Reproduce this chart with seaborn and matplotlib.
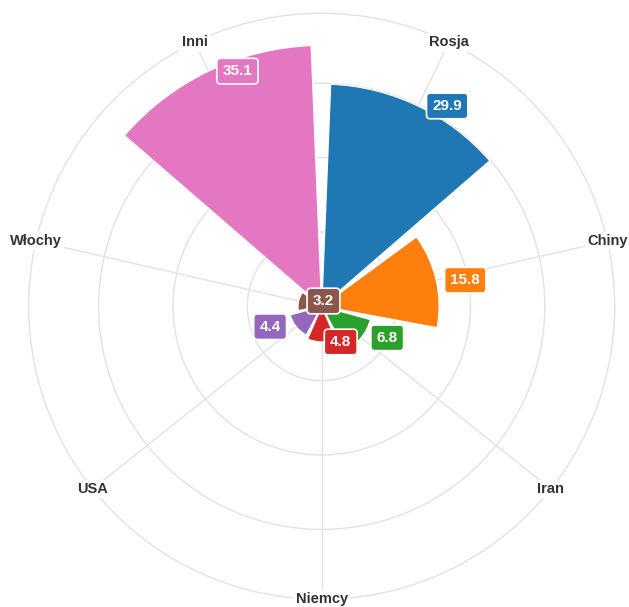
import numpy as np
import matplotlib
matplotlib.use("Agg")
import matplotlib.pyplot as plt
import seaborn as sns

# ---- data ----
categories = ["Rosja", "Chiny", "Iran", "Niemcy", "USA", "Włochy", "Inni"]
values = [29.9, 15.8, 6.8, 4.8, 4.4, 3.2, 35.1]
value_labels = ["29.9", "15.8", "6.8", "4.8", "4.4", "3.2", "35.1"]
ring_ticks = [10, 20, 30]

# ---- style / layout ----
sns.set_theme(style="white")
plt.rcParams["font.family"] = ["Liberation Sans", "DejaVu Sans"]

colors = ["#1f77b4", "#ff7f0e", "#2ca02c", "#d62728", "#9467bd", "#8c564b", "#e377c2"]
label_dx_px = [29, 29, 26, 19, -26, 25, 29]   # horizontal offsets of value boxes
rmax = 39.4
grid_col = "#e2e2e2"

W, H = 629, 607
fig = plt.figure(figsize=(W / 100, H / 100), dpi=100)
cx, cy, R = 321.7, 306.3, 293.0
ax = fig.add_axes([(cx - R) / W, (H - cy - R) / H, 2 * R / W, 2 * R / H],
                  projection="polar")
ax.set_theta_zero_location("N")
ax.set_theta_direction(-1)

n = len(categories)
step = 2 * np.pi / n
thetas = np.arange(n) * step + step / 2
gap = np.radians(4.6)

ax.bar(thetas, values, width=step - gap, color=colors, edgecolor="white",
       linewidth=1.0, zorder=2, align="center")

ax.set_ylim(0, rmax)
ax.set_yticks(ring_ticks)
ax.set_yticklabels([])
ax.set_xticks(thetas)
ax.set_xticklabels([])
ax.grid(True, color=grid_col, linewidth=1.0)
ax.set_axisbelow(True)
ax.spines["polar"].set_color(grid_col)
ax.spines["polar"].set_linewidth(1.0)
ax.set_facecolor("white")

# category labels centred on the outer ring
for th, name in zip(thetas, categories):
    ax.text(th, rmax, name, ha="center", va="center", fontsize=10.5,
            fontweight="bold", color="#333333", clip_on=False, zorder=5,
            bbox=dict(boxstyle="square,pad=0.15", fc="white", ec="none"))

# value boxes
for th, v, lab, c, dx in zip(thetas, values, value_labels, colors, label_dx_px):
    ax.annotate(lab, xy=(th, v), xytext=(dx * 0.72, 0), textcoords="offset points",
                ha="center", va="center", fontsize=11, fontweight="bold",
                color="white", zorder=6, annotation_clip=False,
                bbox=dict(boxstyle="round,pad=0.38,rounding_size=0.25",
                          fc=c, ec="white", lw=1.2))

fig.savefig("out.png", dpi=100, facecolor="white")
